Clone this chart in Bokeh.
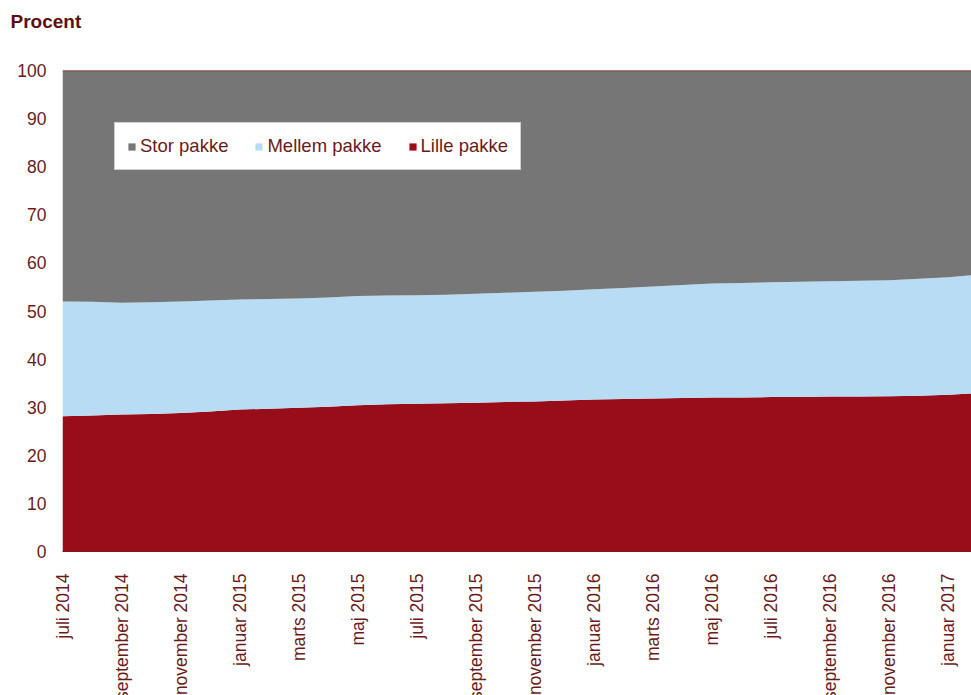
import math
from bokeh.plotting import figure
from bokeh.models import (ColumnDataSource, FixedTicker, Legend, LegendItem,
                          Span, Range1d)
from bokeh.embed import file_html
from bokeh.resources import INLINE

# ---------------- data ----------------
maaneder = [
    "juli 2014", "august 2014", "september 2014", "oktober 2014", "november 2014", "december 2014",
    "januar 2015", "februar 2015", "marts 2015", "april 2015", "maj 2015", "juni 2015",
    "juli 2015", "august 2015", "september 2015", "oktober 2015", "november 2015", "december 2015",
    "januar 2016", "februar 2016", "marts 2016", "april 2016", "maj 2016", "juni 2016",
    "juli 2016", "august 2016", "september 2016", "oktober 2016", "november 2016", "december 2016",
    "januar 2017", "februar 2017",
]

lille_pakke = [28.1, 28.3, 28.5, 28.6, 28.8, 29.1, 29.5, 29.7, 29.9, 30.1, 30.4, 30.6,
               30.7, 30.8, 30.9, 31.1, 31.2, 31.4, 31.6, 31.7, 31.8, 31.9, 32.0, 32.0,
               32.1, 32.1, 32.2, 32.2, 32.3, 32.4, 32.6, 32.9]
mellem_pakke = [23.9, 23.6, 23.2, 23.2, 23.2, 23.1, 22.9, 22.8, 22.7, 22.7, 22.7, 22.6,
                22.6, 22.6, 22.7, 22.7, 22.8, 22.8, 22.9, 23.1, 23.3, 23.5, 23.7, 23.8,
                23.9, 24.0, 24.0, 24.1, 24.1, 24.3, 24.4, 24.7]
stor_pakke = [48.0, 48.1, 48.3, 48.2, 48.0, 47.8, 47.6, 47.5, 47.4, 47.2, 46.9, 46.8,
              46.7, 46.6, 46.4, 46.2, 46.0, 45.8, 45.5, 45.2, 44.9, 44.6, 44.3, 44.2,
              44.0, 43.9, 43.8, 43.7, 43.6, 43.3, 43.0, 42.4]

serie_navne = ["Stor pakke", "Mellem pakke", "Lille pakke"]
y_ticks = list(range(0, 101, 10))
x_tick_idx = list(range(0, 31, 2))

# ---------------- styles ----------------
TXT = "#6b1a1a"
FONT = "Liberation Sans"
C_STOR = "#767676"
C_MELLEM = "#b7dcf3"
C_LILLE = "#990c1a"

src = ColumnDataSource(dict(
    x=list(range(len(maaneder))),
    lille=lille_pakke, mellem=mellem_pakke, stor=stor_pakke,
))

p = figure(frame_width=909, frame_height=481, output_backend="svg",
           toolbar_location=None, x_range=Range1d(0, 30.78), y_range=Range1d(0, 100),
           min_border_left=62, min_border_top=70, min_border_right=0,
           min_border_bottom=144, outline_line_color=None,
           background_fill_color="white", border_fill_color="white")

rs = p.varea_stack(stackers=["lille", "mellem", "stor"], x="x",
                   color=[C_LILLE, C_MELLEM, C_STOR], source=src)

p.add_layout(Span(location=100, dimension="width", line_color="#8a1c1c", line_width=1.5))

p.xgrid.visible = False
p.ygrid.visible = False

# title (two-line block so that the word sits near the top of the page)
p.title.text = "Procent\n "
p.title.align = "left"
p.title.vertical_align = "top"
p.title.offset = -52
p.title.standoff = 20
p.title.text_line_height = 1.3
p.title.text_font = FONT
p.title.text_font_size = "19px"
p.title.text_font_style = "bold"
p.title.text_color = "#5e1010"

# y axis
p.yaxis.ticker = FixedTicker(ticks=y_ticks)
p.yaxis.axis_line_color = None
p.yaxis.major_tick_line_color = None
p.yaxis.minor_tick_line_color = None
p.yaxis.major_tick_out = 0
p.yaxis.major_label_standoff = 16
p.yaxis.major_label_text_font = FONT
p.yaxis.major_label_text_font_size = "17.5px"
p.yaxis.major_label_text_color = TXT

# x axis
p.xaxis.ticker = FixedTicker(ticks=x_tick_idx)
p.xaxis.major_label_overrides = {i: maaneder[i] for i in x_tick_idx}
p.xaxis.major_label_orientation = math.pi / 2
p.xaxis.axis_line_color = "#7a1a1a"
p.xaxis.major_tick_line_color = None
p.xaxis.minor_tick_line_color = None
p.xaxis.major_tick_out = 0
p.xaxis.major_label_standoff = 22
p.xaxis.major_label_text_font = FONT
p.xaxis.major_label_text_font_size = "17.5px"
p.xaxis.major_label_text_color = TXT

# legend
items = [LegendItem(label=serie_navne[0], renderers=[rs[2]]),
         LegendItem(label=serie_navne[1], renderers=[rs[1]]),
         LegendItem(label=serie_navne[2], renderers=[rs[0]])]
leg = Legend(items=items, orientation="horizontal", location=(52, 381),
             glyph_width=9, glyph_height=9, label_standoff=4, spacing=26,
             padding=12, margin=0,
             label_text_font=FONT, label_text_font_size="18.5px", label_text_color=TXT,
             background_fill_color="white", background_fill_alpha=1.0,
             border_line_color="#a0a0a0", border_line_width=1)
p.add_layout(leg, "center")

open("out.html", "w").write(file_html(p, INLINE))
